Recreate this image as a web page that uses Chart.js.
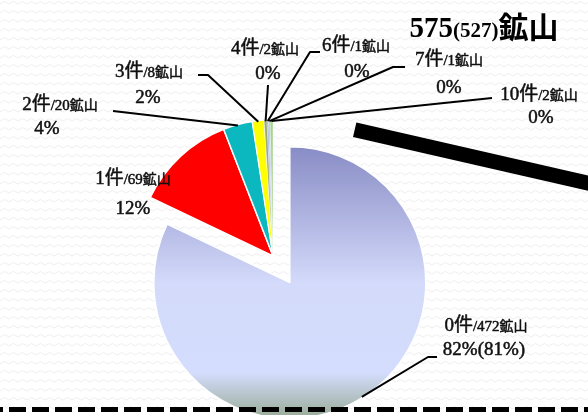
<!DOCTYPE html>
<html><head><meta charset="utf-8">
<script src="https://cdn.jsdelivr.net/npm/chart.js@4.4.1/dist/chart.umd.min.js"></script>
<style>html,body{margin:0;padding:0;background:#fff;overflow:hidden;} canvas{display:block;}</style>
</head><body>
<canvas id="c" width="588" height="415"></canvas>
<script>
// ---- data ----
const categories = ['0件', '1件', '2件', '3件', '4件', '6件', '7件', '10件'];
const mineCounts = [472, 69, 20, 8, 2, 1, 1, 2];
const percentLabels = ['82%(81%)', '12%', '4%', '2%', '0%', '0%', '0%', '0%'];
const titleTotal = '575';
const titleSub = '(527)';
const titleUnit = '鉱山';
const mineUnit = '鉱山';

// ---- style / layout ----
const sliceColors = [null, '#ff0000', '#0bb8c0', '#ffff00', '#9aab6c', '#7f9fe0', '#aab6ea', '#a6d68e'];
const sliceBorders = [1.5, 1.5, 1.5, 1, 0.4, 0.4, 0.4, 0.4];
const explodeDist = [31.5, 0, 0, 0, 0, 0, 0, 0];
const SERIF = '"Liberation Serif", "DejaVu Serif", serif';
const CJK = '"Noto Sans CJK JP", "Noto Sans CJK SC", sans-serif';
// label centres: line1 [x,y], line2 [x,y], leader start points
const labelLayout = [
  {l1: [486, 325], l2: [484, 349], leader: [[437, 357], [428, 357]]},
  {l1: [133, 178], l2: [133, 208], leader: null},
  {l1: [60, 104], l2: [47, 128], leader: [[113, 111]]},
  {l1: [149, 71], l2: [148, 97], leader: [[198, 75], [208, 75]]},
  {l1: [265, 48], l2: [268, 73], leader: [[268, 85]]},
  {l1: [356, 45], l2: [357, 71], leader: [[320, 52], [310, 52]]},
  {l1: [449, 59], l2: [449, 87], leader: [[405, 67], [393, 67]]},
  {l1: [539, 94], l2: [541, 117], leader: [[492, 98]]}
];

function drawRuns(ctx, runs, cx, cy, heavy) {
  let total = 0;
  runs.forEach(r => { ctx.font = r.font; r.w = ctx.measureText(r.t).width; total += r.w; });
  let x = cx - total / 2;
  ctx.textAlign = 'left';
  ctx.textBaseline = 'alphabetic';
  runs.forEach(r => {
    ctx.font = r.font;
    ctx.fillText(r.t, x, cy + (r.dy || 0));
    if (heavy) ctx.strokeText(r.t, x, cy + (r.dy || 0));
    x += r.w;
  });
}

const decorPlugin = {
  id: 'decor',
  beforeDraw(chart) {
    const ctx = chart.ctx, W = chart.width, H = chart.height;
    ctx.save();
    ctx.fillStyle = '#ffffff';
    ctx.fillRect(0, 0, W, H);
    // faint zigzag texture
    ctx.strokeStyle = '#efefef';
    ctx.lineWidth = 1;
    for (let y = 4; y < H + 9; y += 9) {
      ctx.beginPath();
      for (let i = 0, x = 0; x <= W + 5; i++, x += 4.5) {
        ctx.lineTo(x, y + (i % 2 ? -2.5 : 0));
      }
      ctx.stroke();
    }
    // thick black bar
    ctx.strokeStyle = '#000';
    ctx.lineWidth = 15;
    ctx.lineCap = 'butt';
    ctx.beginPath();
    ctx.moveTo(354.7, 129.8);
    ctx.lineTo(620, 190.5);
    ctx.stroke();
    ctx.restore();
  },
  afterDatasetsUpdate(chart) {
    const meta = chart.getDatasetMeta(0);
    meta.data.forEach((a, i) => {
      const d = explodeDist[i];
      if (!d) return;
      const mid = (a.startAngle + a.endAngle) / 2;
      a.x += Math.cos(mid) * d;
      a.y += Math.sin(mid) * d;
    });
  },
  afterDraw(chart) {
    const ctx = chart.ctx, W = chart.width;
    const meta = chart.getDatasetMeta(0);
    ctx.save();
    // dashed line at bottom
    ctx.strokeStyle = '#000';
    ctx.lineWidth = 5;
    ctx.setLineDash([17, 6]);
    ctx.lineDashOffset = 14;
    ctx.beginPath();
    ctx.moveTo(0, 409.5);
    ctx.lineTo(W, 409.5);
    ctx.stroke();
    ctx.setLineDash([]);
    // leader lines
    ctx.lineWidth = 2;
    ctx.lineJoin = 'round';
    meta.data.forEach((a, i) => {
      const lay = labelLayout[i];
      if (!lay.leader) return;
      const mid = (a.startAngle + a.endAngle) / 2;
      const r = a.outerRadius - 1;
      const ex = a.x + Math.cos(mid) * r, ey = a.y + Math.sin(mid) * r;
      ctx.beginPath();
      lay.leader.forEach((p, k) => k ? ctx.lineTo(p[0], p[1]) : ctx.moveTo(p[0], p[1]));
      ctx.lineTo(ex, ey);
      ctx.stroke();
    });
    // labels
    ctx.fillStyle = '#111';
    ctx.strokeStyle = '#111';
    ctx.lineWidth = 0.5;
    categories.forEach((cat, i) => {
      const lay = labelLayout[i];
      const m = cat.match(/^(\d+)(.*)$/);
      drawRuns(ctx, [
        {t: m[1], font: '19px ' + SERIF},
        {t: m[2], font: '19px ' + CJK},
        {t: '/' + mineCounts[i], font: '15px ' + SERIF},
        {t: mineUnit, font: '14px ' + CJK}
      ], lay.l1[0], lay.l1[1] + 6, true);
      drawRuns(ctx, [{t: percentLabels[i], font: '19px ' + SERIF}], lay.l2[0], lay.l2[1] + 6, true);
    });
    // title
    ctx.fillStyle = '#000';
    drawRuns(ctx, [
      {t: titleTotal, font: 'bold 29px ' + SERIF},
      {t: titleSub, font: 'bold 21px ' + SERIF},
      {t: titleUnit, font: 'bold 30px ' + CJK, dy: 1}
    ], 484, 37, false);
    ctx.restore();
  }
};

function sliceColor(c) {
  const i = c.dataIndex;
  if (i !== 0) return sliceColors[i];
  const chart = c.chart;
  const ca = chart.chartArea;
  if (!ca) return '#c8d0f4';
  const cy = (ca.top + ca.bottom) / 2 + 26.7;
  const r = 136;
  const g = chart.ctx.createLinearGradient(0, cy - r, 0, cy + r);
  g.addColorStop(0, '#888cc5');
  g.addColorStop(0.5, '#d3dafa');
  g.addColorStop(0.83, '#d4ddfd');
  g.addColorStop(1, '#98ab96');
  return g;
}

new Chart(document.getElementById('c'), {
  type: 'pie',
  data: {
    labels: categories,
    datasets: [{
      data: mineCounts,
      backgroundColor: sliceColor,
      borderColor: '#ffffff',
      borderWidth: sliceBorders
    }]
  },
  options: {
    responsive: false,
    animation: false,
    events: [],
    radius: 136,
    layout: {padding: {left: 0, right: 42, top: 97, bottom: 0}},
    plugins: {legend: {display: false}, tooltip: {enabled: false}, title: {display: false}}
  },
  plugins: [decorPlugin]
});
</script>
</body></html>
